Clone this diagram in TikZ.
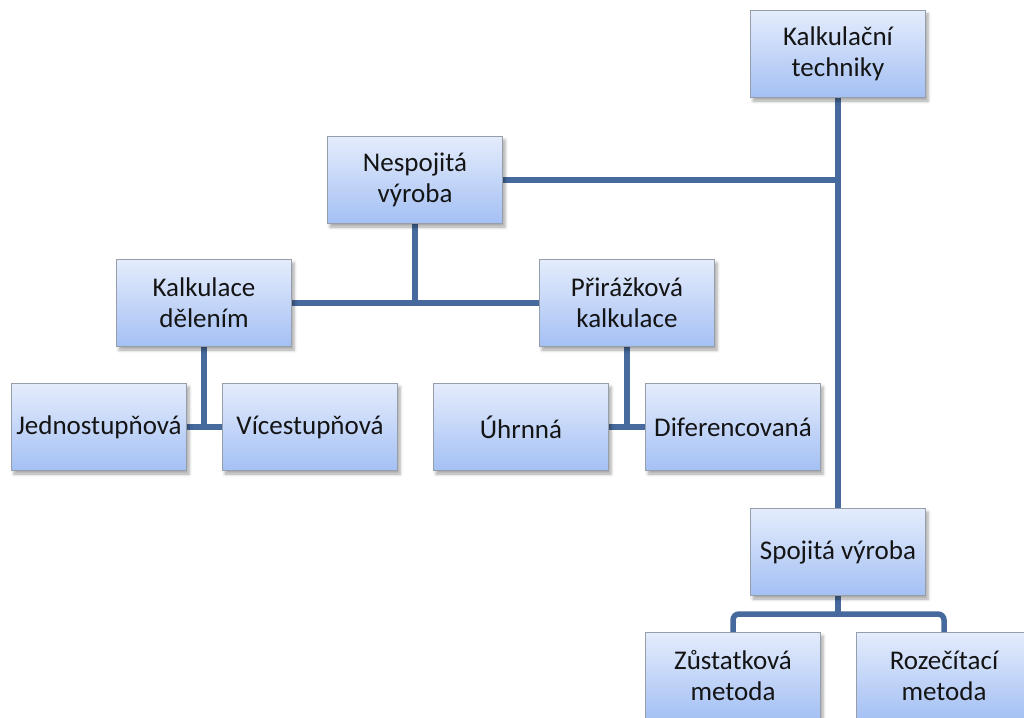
\documentclass[tikz,border=0pt]{standalone}
\usepackage{fontspec}
\setmainfont{Carlito}
\usetikzlibrary{shadows.blur,backgrounds}

\definecolor{linkblue}{RGB}{70,106,158}
\definecolor{boxtop}{RGB}{228,236,252}
\definecolor{boxbottom}{RGB}{164,192,244}
\definecolor{boxedge}{RGB}{150,158,170}
\definecolor{txt}{RGB}{20,20,20}

\tikzset{
  box/.style={
    draw=boxedge, line width=0.8bp,
    top color=boxtop, bottom color=boxbottom,
    minimum width=175bp, minimum height=87bp,
    inner sep=2bp, align=center, text=txt,
    font=\fontsize{27bp}{31bp}\selectfont,
    blur shadow={shadow xshift=2.5bp, shadow yshift=-3.5bp,
                 shadow blur radius=3bp, shadow opacity=35}
  },
  link/.style={draw=linkblue, line width=5.5bp}
}

\begin{document}
\begin{tikzpicture}[x=1bp,y=-1bp]
  \useasboundingbox (0,0) rectangle (1024,718);

  % top level
  \node[box] (kt) at (838,54) {Kalkulační\\techniky};

  % discontinuous production branch
  \node[box] (nv) at (415,180) {Nespojitá\\výroba};
  \node[box] (kd) at (204,303) {Kalkulace\\dělením};
  \node[box] (pk) at (627,303) {Přirážková\\kalkulace};
  \node[box] (je) at (99,427)  {Jednostupňová};
  \node[box] (vi) at (310,427) {Vícestupňová};
  \node[box] (uh) at (521,427) {Úhrnná};
  \node[box] (di) at (733,427) {Diferencovaná};

  % continuous production branch
  \node[box] (sv) at (838,552) {Spojitá výroba};
  \node[box] (zm) at (733,676) {Zůstatková\\metoda};
  \node[box] (rm) at (944,676) {Rozečítací\\metoda};

  \coordinate (bar) at (838,614);

  \begin{pgfonlayer}{background}
    \draw[link] (kt) -- (sv);
    \draw[link] (nv.east) -- (nv.east -| kt);
    \draw[link] (nv) -- (nv |- kd);
    \draw[link] (kd.east) -- (pk.west);
    \draw[link] (kd) -- (kd |- je);
    \draw[link] (je.east) -- (vi.west);
    \draw[link] (pk) -- (pk |- uh);
    \draw[link] (uh.east) -- (di.west);
    \draw[link] (sv) -- (bar);
    \draw[link, rounded corners=6bp] (zm.north) |- (bar) -| (rm.north);
  \end{pgfonlayer}
\end{tikzpicture}
\end{document}
